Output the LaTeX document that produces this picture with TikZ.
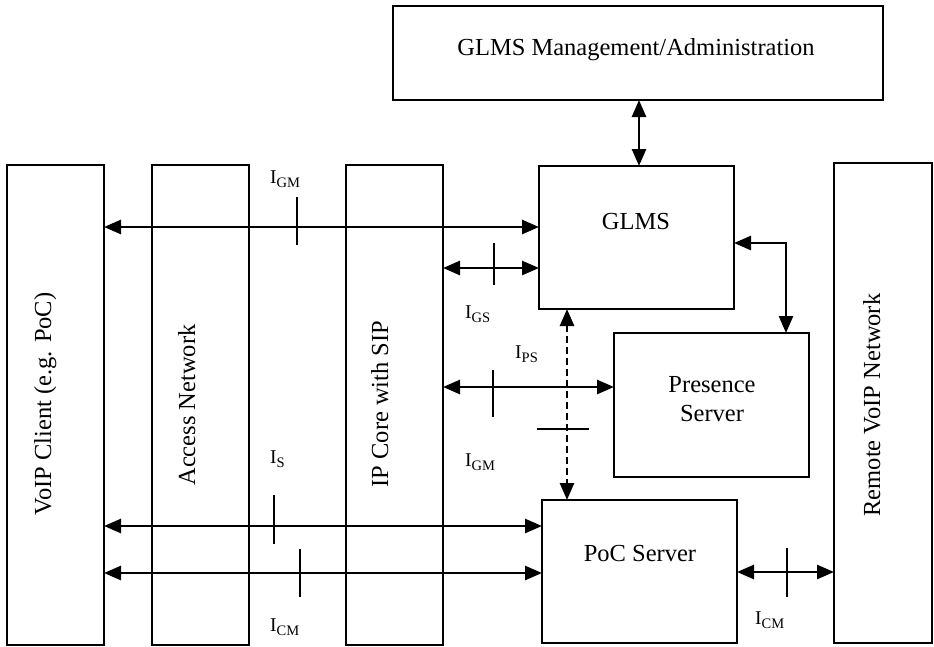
\documentclass[tikz,border=0pt]{standalone}
\usepackage{fontspec}
\setmainfont{Liberation Serif}
\usetikzlibrary{arrows.meta}
\newcommand\ilabel[1]{{\fontsize{19.5}{19.5}\selectfont I}{\fontsize{14.5}{14.5}\selectfont\raisebox{-4pt}{#1}}}
\tikzset{
  box/.style={draw, line width=2pt, inner sep=0pt, outer sep=0pt},
  txt/.style={font=\fontsize{24.5}{29}\selectfont, inner sep=0pt},
  vtxt/.style={txt, rotate=90, anchor=base},
  lbl/.style={inner sep=0pt, anchor=base west},
  tip/.style={{Triangle[length=17pt,width=14pt]}-{Triangle[length=17pt,width=14pt]}},
  arr/.style={tip, line width=2.6pt},
  tick/.style={line width=1.6pt},
}
\begin{document}
\begin{tikzpicture}[x=1pt,y=-1pt]
\useasboundingbox (0,0) rectangle (934,646);
% boxes
\node[box, minimum width=490, minimum height=94] (mgmt) at (638,53) {};
\node[box, minimum width=195, minimum height=143] (glms) at (636.5,237.5) {};
\node[box, minimum width=195, minimum height=144] (pres) at (711.5,405) {};
\node[box, minimum width=195, minimum height=143] (poc) at (639.5,571.5) {};
\node[box, minimum width=97, minimum height=480] (voip) at (55.5,405) {};
\node[box, minimum width=97, minimum height=480] (acc) at (200.5,405) {};
\node[box, minimum width=97, minimum height=480] (ipc) at (394.5,405) {};
\node[box, minimum width=98, minimum height=480] (remote) at (883,403) {};
% texts
\node[txt, anchor=base] (mgmtT) at (636,55) {GLMS Management/Administration};
\node[txt, anchor=base] (glmsT) at (636,229) {GLMS};
\node[txt, align=center] (presT) at (712,399) {Presence\\Server};
\node[txt, anchor=base] (pocT) at (640,561) {PoC Server};
\node[vtxt] (voipT) at (51,404) {VoIP Client (e.g. PoC)};
\node[vtxt] (accT) at (195,405) {Access Network};
\node[vtxt] (ipcT) at (388,404) {IP Core with SIP};
\node[vtxt] (remT) at (880,405) {Remote VoIP Network};
% connectors
\draw[arr] (mgmt.south -| 639,0) -- (glms.north -| 639,0);
\draw[arr] (voip.east |- 0,227) -- (glms.west |- 0,227);
\draw[arr] (ipc.east |- 0,268) -- (glms.west |- 0,268);
\draw[arr] (ipc.east |- 0,387) -- (pres.west |- 0,387);
\draw[arr] (glms.east |- 0,243) -| (pres.north -| 786,0);
\draw[arr, dash pattern=on 7pt off 4pt] (glms.south -| 567,0) -- (poc.north -| 567,0);
\draw[arr] (voip.east |- 0,526) -- (poc.west |- 0,526);
\draw[arr] (voip.east |- 0,573) -- (poc.west |- 0,573);
\draw[arr] (poc.east |- 0,572) -- (remote.west |- 0,572);
% interface ticks
\draw[tick] (297,197) -- (297,245);
\draw[tick] (494,243) -- (494,285);
\draw[tick] (493,370) -- (493,417);
\draw[tick] (537,429) -- (589,429);
\draw[tick] (274,495) -- (274,544);
\draw[tick] (300,549) -- (300,597);
\draw[tick] (787,548) -- (787,597);
% labels
\node[lbl] (lGM1) at (270,183) {\ilabel{GM}};
\node[lbl] (lGS) at (465,318) {\ilabel{GS}};
\node[lbl] (lPS) at (515,358) {\ilabel{PS}};
\node[lbl] (lGM2) at (465,466) {\ilabel{GM}};
\node[lbl] (lS) at (270,463) {\ilabel{S}};
\node[lbl] (lCM1) at (270,631) {\ilabel{CM}};
\node[lbl] (lCM2) at (755,624) {\ilabel{CM}};
\end{tikzpicture}
\end{document}
